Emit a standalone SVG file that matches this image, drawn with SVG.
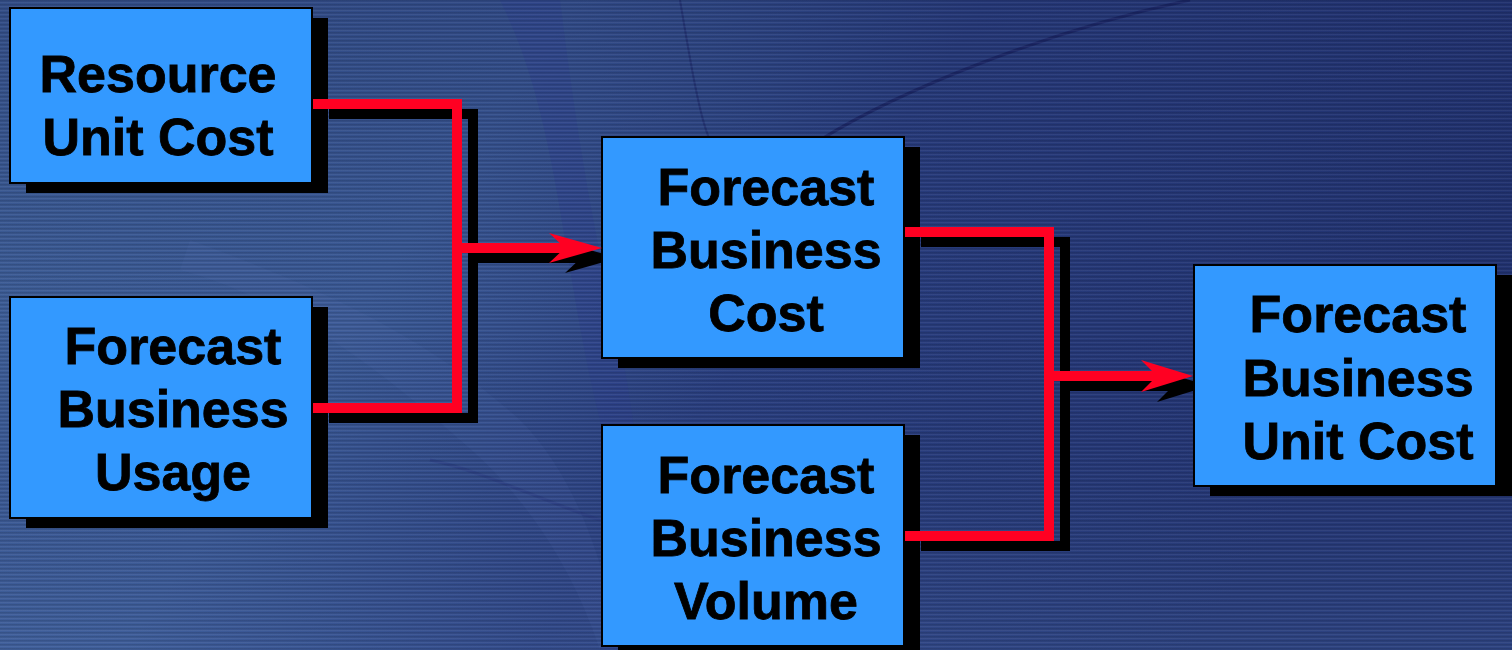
<svg xmlns="http://www.w3.org/2000/svg" width="1512" height="650" viewBox="0 0 1512 650">
<defs>
<linearGradient id="bg" x1="0" y1="0" x2="1" y2="0.3">
<stop offset="0" stop-color="#3f6098"/>
<stop offset="0.35" stop-color="#3b5a96"/>
<stop offset="0.6" stop-color="#2a3f80"/>
<stop offset="1" stop-color="#223371"/>
</linearGradient>
<linearGradient id="bgv" x1="0" y1="0" x2="0" y2="1">
<stop offset="0" stop-color="#1c2a66" stop-opacity="0.35"/>
<stop offset="0.5" stop-color="#1c2a66" stop-opacity="0"/>
<stop offset="1" stop-color="#4a6aa8" stop-opacity="0.3"/>
</linearGradient>
<pattern id="scan" width="8" height="4" patternUnits="userSpaceOnUse">
<rect width="8" height="1.5" fill="#000" fill-opacity="0.12"/>
<rect y="2" width="8" height="1" fill="#fff" fill-opacity="0.05"/>
</pattern>
<style>
.box{fill:#3399ff;stroke:#000;stroke-width:2}
.sh{fill:#000}
.lbl{font-family:"Liberation Sans",Arial,Helvetica,sans-serif;font-weight:bold;font-size:52px;fill:#000;stroke:#000;stroke-width:0.8;text-anchor:middle}
.wire{fill:none;stroke:#ff0022;stroke-width:10;stroke-linejoin:miter;stroke-linecap:butt}
.wsh{fill:none;stroke:#000;stroke-width:10;stroke-linejoin:miter;stroke-linecap:butt}
.head{fill:#ff0022}
.hsh{fill:#000}
</style>
</defs>
<g id="background">
<rect width="1512" height="650" fill="url(#bg)"/>
<rect width="1512" height="650" fill="url(#bgv)"/>
<path d="M500,0 C560,120 560,260 600,420 C620,520 610,600 600,650 L640,650 C650,560 640,420 610,300 C585,190 570,80 560,0 Z" fill="#2c3f8c" fill-opacity="0.4"/>
<path d="M190,240 C300,280 420,330 520,420 C560,460 590,520 610,600 L600,650 C570,560 520,490 460,440 C380,370 290,300 180,270 Z" fill="#5a7ab8" fill-opacity="0.1"/>
<path d="M680,0 C690,60 700,120 710,140" fill="none" stroke="#1c2868" stroke-width="2" stroke-opacity="0.6"/>
<path d="M820,140 C900,90 1050,30 1190,0" fill="none" stroke="#17205c" stroke-width="3" stroke-opacity="0.7"/>
<path d="M430,460 C480,470 540,500 600,520" fill="none" stroke="#2a3a80" stroke-width="3" stroke-opacity="0.5"/>
<rect width="1512" height="650" fill="url(#scan)"/>
</g>
<g id="connector-shadows">
<path class="wsh" d="M329,114 H473 V418 H329"/>
<path class="wsh" d="M473,258 H581"/>
<path class="hsh" d="M618,258 L565,243 L581,258 L565,273 Z"/>
<path class="wsh" d="M921,242 H1065 V546 H921"/>
<path class="wsh" d="M1065,386 H1173"/>
<path class="hsh" d="M1209,386 L1157,370 L1173,386 L1157,402 Z"/>
</g>
<g id="resource-unit-cost">
<rect class="sh" x="26" y="18" width="302" height="175"/>
<rect class="box" x="10" y="8" width="302" height="175"/>
<text class="lbl" x="158" y="92">Resource</text>
<text class="lbl" x="158" y="155">Unit Cost</text>
</g>
<g id="forecast-business-usage">
<rect class="sh" x="26" y="307" width="302" height="221"/>
<rect class="box" x="10" y="297" width="302" height="221"/>
<text class="lbl" x="173" y="364">Forecast</text>
<text class="lbl" x="173" y="427">Business</text>
<text class="lbl" x="173" y="490">Usage</text>
</g>
<g id="forecast-business-cost">
<rect class="sh" x="618" y="147" width="302" height="221"/>
<rect class="box" x="602" y="137" width="302" height="221"/>
<text class="lbl" x="766" y="205">Forecast</text>
<text class="lbl" x="766" y="268">Business</text>
<text class="lbl" x="766" y="331">Cost</text>
</g>
<g id="forecast-business-volume">
<rect class="sh" x="618" y="435" width="302" height="221"/>
<rect class="box" x="602" y="425" width="302" height="221"/>
<text class="lbl" x="766" y="493">Forecast</text>
<text class="lbl" x="766" y="556">Business</text>
<text class="lbl" x="766" y="619">Volume</text>
</g>
<g id="forecast-business-unit-cost">
<rect class="sh" x="1210" y="275" width="302" height="221"/>
<rect class="box" x="1194" y="265" width="302" height="221"/>
<text class="lbl" x="1358" y="332">Forecast</text>
<text class="lbl" x="1358" y="396">Business</text>
<text class="lbl" x="1358" y="459">Unit Cost</text>
</g>
<g id="connectors">
<path class="wire" d="M313,104 H457 V408 H313"/>
<path class="wire" d="M457,248 H566"/>
<path class="head" d="M602,248 L549,233 L565,248 L549,263 Z"/>
<path class="wire" d="M905,232 H1049 V536 H905"/>
<path class="wire" d="M1049,376 H1158"/>
<path class="head" d="M1193,376 L1141,360 L1157,376 L1141,392 Z"/>
</g>
</svg>
